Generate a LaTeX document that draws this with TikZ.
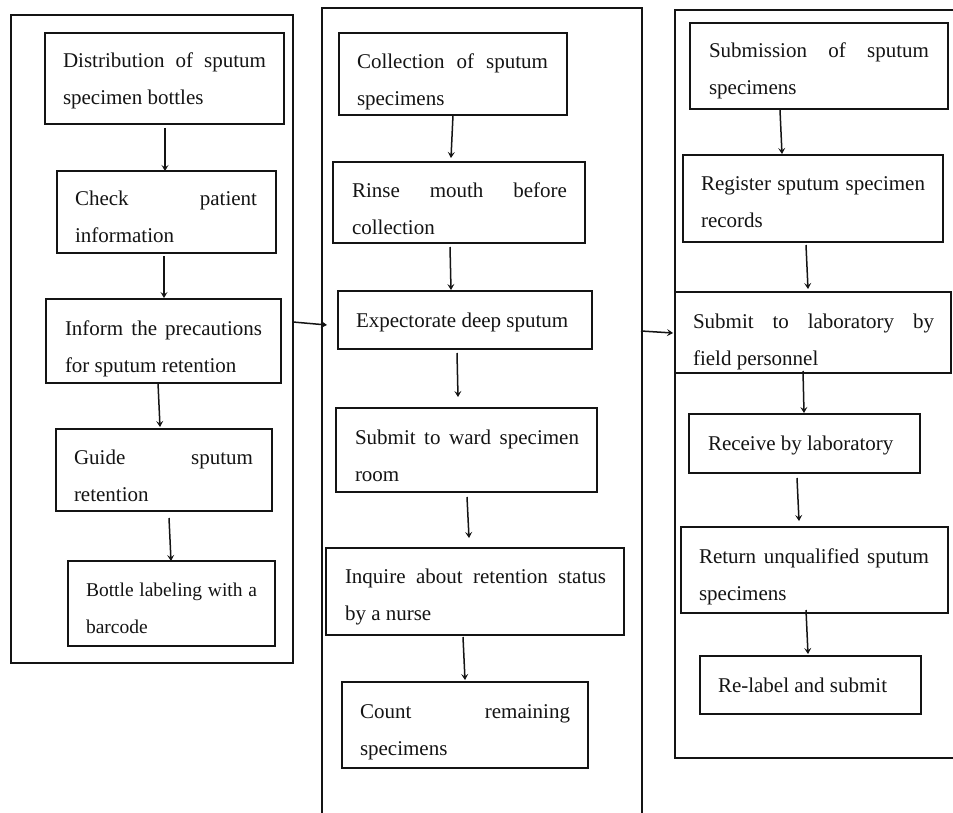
\documentclass[tikz,border=0pt]{standalone}
\usepackage{fontspec}
\setmainfont{Liberation Serif}
\usetikzlibrary{arrows.meta,calc}
\definecolor{ink}{RGB}{20,20,20}
\newcommand\TwoLn[3]{\vtop{\baselineskip=37pt\hbox{\makebox[#1][s]{#2}}\hbox{#3}}}
\tikzset{
  boxnode/.style={draw=ink, line width=1.8pt, rectangle, inner sep=0pt, outer sep=0pt},
  framenode/.style={draw=ink, line width=1.8pt, rectangle, inner sep=0pt, outer sep=0pt},
  txt/.style={anchor=base west, inner sep=0pt, outer sep=0pt, text=ink, font=\fontsize{21pt}{37pt}\selectfont},
  smalltxt/.style={txt, font=\fontsize{19.5pt}{37pt}\selectfont},
  arr/.style={draw=ink, line width=1.5pt, -{Stealth[length=6pt,width=7pt,inset=2.5pt]}}
}
\begin{document}
\begin{tikzpicture}[x=1pt,y=-1pt]
\useasboundingbox (0,0) rectangle (953,813);
\clip (0,0) rectangle (953,813);
\fill[white] (0,0) rectangle (953,813);
% containers
\node[framenode, minimum width=282pt, minimum height=648pt] (LC) at (152,339) {};
\node[framenode, minimum width=320pt, minimum height=832pt] (MC) at (482,424) {};
\node[framenode, minimum width=295pt, minimum height=748pt] (RC) at (822.5,384) {};
% left column boxes
\node[boxnode, minimum width=239pt, minimum height=91pt] (L1) at (164.5,78.5) {};
\node[boxnode, minimum width=219pt, minimum height=82pt] (L2) at (166.5,212) {};
\node[boxnode, minimum width=235pt, minimum height=84pt] (L3) at (163.5,341) {};
\node[boxnode, minimum width=216pt, minimum height=82pt] (L4) at (164,470) {};
\node[boxnode, minimum width=207pt, minimum height=85pt] (L5) at (171.5,603.5) {};
% middle column boxes
\node[boxnode, minimum width=228pt, minimum height=82pt] (M1) at (453,74) {};
\node[boxnode, minimum width=252pt, minimum height=81pt] (M2) at (459,202.5) {};
\node[boxnode, minimum width=254pt, minimum height=58pt] (M3) at (465,320) {};
\node[boxnode, minimum width=261pt, minimum height=84pt] (M4) at (466.5,450) {};
\node[boxnode, minimum width=298pt, minimum height=87pt] (M5) at (475,591.5) {};
\node[boxnode, minimum width=246pt, minimum height=86pt] (M6) at (465,725) {};
% right column boxes
\node[boxnode, minimum width=258pt, minimum height=86pt] (R1) at (819,66) {};
\node[boxnode, minimum width=260pt, minimum height=87pt] (R2) at (813,198.5) {};
\node[boxnode, minimum width=276pt, minimum height=81pt] (R3) at (813,332.5) {};
\node[boxnode, minimum width=231pt, minimum height=59pt] (R4) at (804.5,443.5) {};
\node[boxnode, minimum width=267pt, minimum height=86pt] (R5) at (814.5,570) {};
\node[boxnode, minimum width=221pt, minimum height=58pt] (R6) at (810.5,685) {};
% texts
\node[txt] (L1t) at (63,68) {\TwoLn{203pt}{Distribution of sputum}{specimen bottles}};
\node[txt] (L2t) at (75,206) {\TwoLn{182pt}{Check patient}{information}};
\node[txt] (L3t) at (65,335) {\TwoLn{197pt}{Inform the precautions}{for sputum retention}};
\node[txt] (L4t) at (74,464) {\TwoLn{179pt}{Guide sputum}{retention}};
\node[smalltxt] (L5t) at (86,596) {\TwoLn{171pt}{Bottle labeling with a}{barcode}};
\node[txt] (M1t) at (357,69) {\TwoLn{191pt}{Collection of sputum}{specimens}};
\node[txt] (M2t) at (352,198) {\TwoLn{215pt}{Rinse mouth before}{collection}};
\node[txt] (M3t) at (356,327) {Expectorate deep sputum};
\node[txt] (M4t) at (355,444) {\TwoLn{224pt}{Submit to ward specimen}{room}};
\node[txt] (M5t) at (345,583) {\TwoLn{261pt}{Inquire about retention status}{by a nurse}};
\node[txt] (M6t) at (360,718) {\TwoLn{210pt}{Count remaining}{specimens}};
\node[txt] (R1t) at (709,58) {\TwoLn{220pt}{Submission of sputum}{specimens}};
\node[txt] (R2t) at (701,191) {\TwoLn{224pt}{Register sputum specimen}{records}};
\node[txt] (R3t) at (693,328) {\TwoLn{241pt}{Submit to laboratory by}{field personnel}};
\node[txt] (R4t) at (708,450) {Receive by laboratory};
\node[txt] (R5t) at (699,563) {\TwoLn{230pt}{Return unqualified sputum}{specimens}};
\node[txt] (R6t) at (718,692) {Re-label and submit};
% left arrows
\draw[arr] ($(L1.south)+(0.5,4)$) -- ($(L2.north)+(-1.5,0)$);
\draw[arr] ($(L2.south)+(-2.5,3)$) -- ($(L3.north)+(0.5,-1)$);
\draw[arr] ($(L3.south)+(-5.5,0)$) -- ($(L4.north)+(-4,-2)$);
\draw[arr] ($(L4.south)+(5,7)$) -- ($(L5.north)+(-0.5,0)$);
% middle arrows
\draw[arr] ($(M1.south)+(0,0)$) -- ($(M2.north)+(-8,-4)$);
\draw[arr] ($(M2.south)+(-9,4)$) -- ($(M3.north)+(-14,-1)$);
\draw[arr] ($(M3.south)+(-8,4)$) -- ($(M4.north)+(-8.5,-11)$);
\draw[arr] ($(M4.south)+(0.5,5)$) -- ($(M5.north)+(-6,-10)$);
\draw[arr] ($(M5.south)+(-12,2)$) -- ($(M6.north)+(0,-2)$);
% right arrows
\draw[arr] ($(R1.south)+(-39,1)$) -- ($(R2.north)+(-31,-1)$);
\draw[arr] ($(R2.south)+(-7,3)$) -- ($(R3.north)+(-5,-3)$);
\draw[arr] ($(R3.south)+(-10,-2)$) -- ($(R4.north)+(-0.5,-1)$);
\draw[arr] ($(R4.south)+(-7.5,5)$) -- ($(R5.north)+(-15.5,-6)$);
\draw[arr] ($(R5.south)+(-8.5,-3)$) -- ($(R6.north)+(-2.5,-2)$);
% cross arrows
\draw[arr] ($(LC.north east)+(0,307)$) -- ($(MC.north west)+(5,317)$);
\draw[arr] ($(MC.north east)+(-1,323)$) -- ($(RC.north west)+(-2,323)$);
\end{tikzpicture}
\end{document}
